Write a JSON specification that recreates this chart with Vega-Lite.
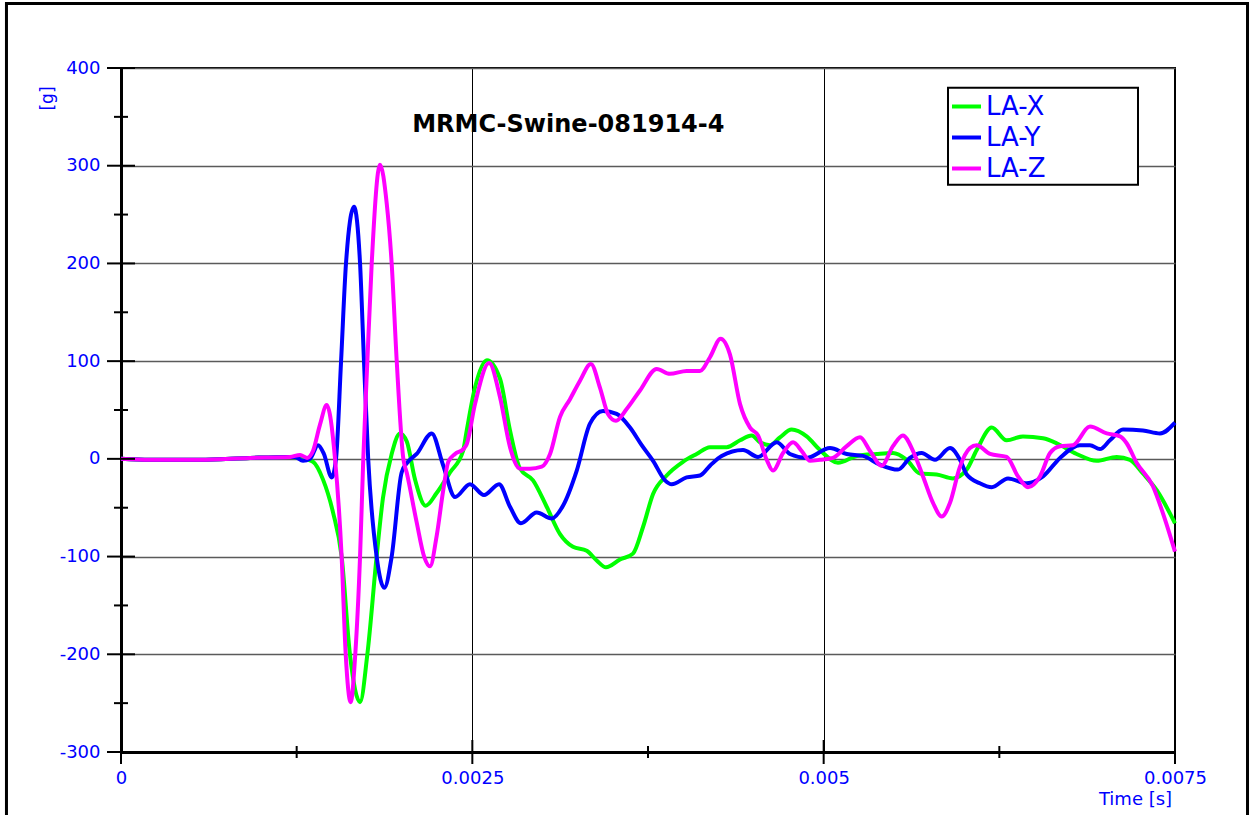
{
  "$schema": "https://vega.github.io/schema/vega-lite/v6.json",
  "width": 1054,
  "height": 684,
  "autosize": {"type": "none"},
  "padding": {"left": 121, "top": 68, "right": 77, "bottom": 63},
  "background": "white",
  "config": {"view": {"stroke": "black", "strokeWidth": 2}},
  "datasets": {
    "accel": [
      {"s":"LA-X","t":0,"v":0},{"s":"LA-X","t":0.000206,"v":-1},{"s":"LA-X","t":0.000562,"v":-1},{"s":"LA-X","t":0.000918,"v":1},{"s":"LA-X","t":0.001203,"v":2},{"s":"LA-X","t":0.001274,"v":1},{"s":"LA-X","t":0.001366,"v":-3},{"s":"LA-X","t":0.001437,"v":-21},{"s":"LA-X","t":0.001509,"v":-55},{"s":"LA-X","t":0.00157,"v":-100},{"s":"LA-X","t":0.001629,"v":-200},{"s":"LA-X","t":0.001701,"v":-249},{"s":"LA-X","t":0.001753,"v":-200},{"s":"LA-X","t":0.001819,"v":-100},{"s":"LA-X","t":0.001864,"v":-40},{"s":"LA-X","t":0.001926,"v":5},{"s":"LA-X","t":0.001985,"v":26},{"s":"LA-X","t":0.002033,"v":18},{"s":"LA-X","t":0.002092,"v":-21},{"s":"LA-X","t":0.002168,"v":-48},{"s":"LA-X","t":0.002246,"v":-35},{"s":"LA-X","t":0.002341,"v":-14},{"s":"LA-X","t":0.002434,"v":8},{"s":"LA-X","t":0.00246,"v":29},{"s":"LA-X","t":0.002519,"v":73},{"s":"LA-X","t":0.002604,"v":101},{"s":"LA-X","t":0.002697,"v":82},{"s":"LA-X","t":0.002768,"v":29},{"s":"LA-X","t":0.002839,"v":-10},{"s":"LA-X","t":0.002932,"v":-22},{"s":"LA-X","t":0.003029,"v":-49},{"s":"LA-X","t":0.003124,"v":-77},{"s":"LA-X","t":0.003216,"v":-90},{"s":"LA-X","t":0.003314,"v":-94},{"s":"LA-X","t":0.003385,"v":-104},{"s":"LA-X","t":0.003451,"v":-111},{"s":"LA-X","t":0.003551,"v":-103},{"s":"LA-X","t":0.003643,"v":-97},{"s":"LA-X","t":0.003714,"v":-70},{"s":"LA-X","t":0.003786,"v":-36},{"s":"LA-X","t":0.003883,"v":-17},{"s":"LA-X","t":0.003999,"v":-3},{"s":"LA-X","t":0.004096,"v":5},{"s":"LA-X","t":0.004191,"v":12},{"s":"LA-X","t":0.00431,"v":12},{"s":"LA-X","t":0.004405,"v":19},{"s":"LA-X","t":0.004488,"v":24},{"s":"LA-X","t":0.004547,"v":17},{"s":"LA-X","t":0.004618,"v":14},{"s":"LA-X","t":0.004689,"v":22},{"s":"LA-X","t":0.004772,"v":30},{"s":"LA-X","t":0.004879,"v":23},{"s":"LA-X","t":0.004974,"v":9},{"s":"LA-X","t":0.005102,"v":-4},{"s":"LA-X","t":0.005235,"v":3},{"s":"LA-X","t":0.005377,"v":5},{"s":"LA-X","t":0.005493,"v":6},{"s":"LA-X","t":0.005591,"v":-1},{"s":"LA-X","t":0.005685,"v":-15},{"s":"LA-X","t":0.005804,"v":-16},{"s":"LA-X","t":0.00592,"v":-20},{"s":"LA-X","t":0.006018,"v":-11},{"s":"LA-X","t":0.006089,"v":9},{"s":"LA-X","t":0.006196,"v":32},{"s":"LA-X","t":0.006302,"v":19},{"s":"LA-X","t":0.006418,"v":23},{"s":"LA-X","t":0.006561,"v":21},{"s":"LA-X","t":0.006658,"v":16},{"s":"LA-X","t":0.0068,"v":5},{"s":"LA-X","t":0.006943,"v":-2},{"s":"LA-X","t":0.007085,"v":2},{"s":"LA-X","t":0.00718,"v":-1},{"s":"LA-X","t":0.007272,"v":-15},{"s":"LA-X","t":0.00737,"v":-32},{"s":"LA-X","t":0.0075,"v":-66},
      {"s":"LA-Y","t":0,"v":0},{"s":"LA-Y","t":0.000206,"v":-1},{"s":"LA-Y","t":0.000562,"v":-1},{"s":"LA-Y","t":0.000918,"v":1},{"s":"LA-Y","t":0.001203,"v":2},{"s":"LA-Y","t":0.001238,"v":2},{"s":"LA-Y","t":0.001295,"v":-2},{"s":"LA-Y","t":0.001345,"v":0},{"s":"LA-Y","t":0.001402,"v":14},{"s":"LA-Y","t":0.001444,"v":5},{"s":"LA-Y","t":0.001499,"v":-19},{"s":"LA-Y","t":0.00153,"v":0},{"s":"LA-Y","t":0.001566,"v":100},{"s":"LA-Y","t":0.001601,"v":200},{"s":"LA-Y","t":0.001658,"v":258},{"s":"LA-Y","t":0.001701,"v":200},{"s":"LA-Y","t":0.001729,"v":100},{"s":"LA-Y","t":0.001759,"v":0},{"s":"LA-Y","t":0.001819,"v":-100},{"s":"LA-Y","t":0.001874,"v":-132},{"s":"LA-Y","t":0.001926,"v":-100},{"s":"LA-Y","t":0.001997,"v":-14},{"s":"LA-Y","t":0.002042,"v":-3},{"s":"LA-Y","t":0.002104,"v":5},{"s":"LA-Y","t":0.002211,"v":26},{"s":"LA-Y","t":0.002291,"v":-6},{"s":"LA-Y","t":0.002377,"v":-39},{"s":"LA-Y","t":0.002483,"v":-26},{"s":"LA-Y","t":0.002583,"v":-37},{"s":"LA-Y","t":0.00269,"v":-26},{"s":"LA-Y","t":0.002768,"v":-49},{"s":"LA-Y","t":0.002846,"v":-66},{"s":"LA-Y","t":0.002958,"v":-55},{"s":"LA-Y","t":0.003065,"v":-61},{"s":"LA-Y","t":0.003145,"v":-48},{"s":"LA-Y","t":0.003243,"v":-12},{"s":"LA-Y","t":0.003337,"v":36},{"s":"LA-Y","t":0.00343,"v":49},{"s":"LA-Y","t":0.003527,"v":46},{"s":"LA-Y","t":0.003622,"v":32},{"s":"LA-Y","t":0.003705,"v":14},{"s":"LA-Y","t":0.003786,"v":-2},{"s":"LA-Y","t":0.003871,"v":-22},{"s":"LA-Y","t":0.003919,"v":-26},{"s":"LA-Y","t":0.004025,"v":-19},{"s":"LA-Y","t":0.00412,"v":-17},{"s":"LA-Y","t":0.004191,"v":-7},{"s":"LA-Y","t":0.004274,"v":3},{"s":"LA-Y","t":0.004426,"v":9},{"s":"LA-Y","t":0.004533,"v":2},{"s":"LA-Y","t":0.004666,"v":17},{"s":"LA-Y","t":0.00476,"v":5},{"s":"LA-Y","t":0.004879,"v":1},{"s":"LA-Y","t":0.005045,"v":11},{"s":"LA-Y","t":0.005164,"v":5},{"s":"LA-Y","t":0.00528,"v":3},{"s":"LA-Y","t":0.005401,"v":-6},{"s":"LA-Y","t":0.005529,"v":-11},{"s":"LA-Y","t":0.005614,"v":1},{"s":"LA-Y","t":0.005697,"v":6},{"s":"LA-Y","t":0.005792,"v":-1},{"s":"LA-Y","t":0.005899,"v":11},{"s":"LA-Y","t":0.00597,"v":-1},{"s":"LA-Y","t":0.006018,"v":-16},{"s":"LA-Y","t":0.006112,"v":-25},{"s":"LA-Y","t":0.006196,"v":-29},{"s":"LA-Y","t":0.006312,"v":-20},{"s":"LA-Y","t":0.006445,"v":-25},{"s":"LA-Y","t":0.006561,"v":-18},{"s":"LA-Y","t":0.006682,"v":1},{"s":"LA-Y","t":0.006824,"v":14},{"s":"LA-Y","t":0.006895,"v":14},{"s":"LA-Y","t":0.006966,"v":10},{"s":"LA-Y","t":0.007037,"v":19},{"s":"LA-Y","t":0.00713,"v":30},{"s":"LA-Y","t":0.007272,"v":29},{"s":"LA-Y","t":0.007393,"v":26},{"s":"LA-Y","t":0.0075,"v":37},
      {"s":"LA-Z","t":0,"v":0},{"s":"LA-Z","t":0.000206,"v":-1},{"s":"LA-Z","t":0.000562,"v":-1},{"s":"LA-Z","t":0.000918,"v":1},{"s":"LA-Z","t":0.001203,"v":2},{"s":"LA-Z","t":0.001274,"v":4},{"s":"LA-Z","t":0.001324,"v":1},{"s":"LA-Z","t":0.001366,"v":8},{"s":"LA-Z","t":0.001416,"v":35},{"s":"LA-Z","t":0.001464,"v":55},{"s":"LA-Z","t":0.001523,"v":0},{"s":"LA-Z","t":0.00157,"v":-100},{"s":"LA-Z","t":0.001599,"v":-200},{"s":"LA-Z","t":0.001634,"v":-249},{"s":"LA-Z","t":0.001667,"v":-200},{"s":"LA-Z","t":0.001701,"v":-100},{"s":"LA-Z","t":0.001724,"v":0},{"s":"LA-Z","t":0.001753,"v":100},{"s":"LA-Z","t":0.001784,"v":200},{"s":"LA-Z","t":0.001843,"v":301},{"s":"LA-Z","t":0.001891,"v":261},{"s":"LA-Z","t":0.001926,"v":200},{"s":"LA-Z","t":0.001962,"v":100},{"s":"LA-Z","t":0.002009,"v":0},{"s":"LA-Z","t":0.002033,"v":-14},{"s":"LA-Z","t":0.002104,"v":-65},{"s":"LA-Z","t":0.002157,"v":-100},{"s":"LA-Z","t":0.002199,"v":-110},{"s":"LA-Z","t":0.002246,"v":-79},{"s":"LA-Z","t":0.002293,"v":-32},{"s":"LA-Z","t":0.002329,"v":-3},{"s":"LA-Z","t":0.002377,"v":5},{"s":"LA-Z","t":0.002436,"v":10},{"s":"LA-Z","t":0.00246,"v":15},{"s":"LA-Z","t":0.002519,"v":56},{"s":"LA-Z","t":0.002619,"v":98},{"s":"LA-Z","t":0.002697,"v":63},{"s":"LA-Z","t":0.002768,"v":12},{"s":"LA-Z","t":0.002839,"v":-10},{"s":"LA-Z","t":0.00291,"v":-10},{"s":"LA-Z","t":0.002994,"v":-8},{"s":"LA-Z","t":0.003053,"v":5},{"s":"LA-Z","t":0.003124,"v":43},{"s":"LA-Z","t":0.003195,"v":61},{"s":"LA-Z","t":0.003266,"v":80},{"s":"LA-Z","t":0.003344,"v":97},{"s":"LA-Z","t":0.003408,"v":73},{"s":"LA-Z","t":0.003465,"v":46},{"s":"LA-Z","t":0.003522,"v":39},{"s":"LA-Z","t":0.003598,"v":51},{"s":"LA-Z","t":0.003693,"v":70},{"s":"LA-Z","t":0.003812,"v":92},{"s":"LA-Z","t":0.003906,"v":87},{"s":"LA-Z","t":0.004025,"v":90},{"s":"LA-Z","t":0.00412,"v":90},{"s":"LA-Z","t":0.004191,"v":104},{"s":"LA-Z","t":0.004267,"v":123},{"s":"LA-Z","t":0.004333,"v":107},{"s":"LA-Z","t":0.004405,"v":56},{"s":"LA-Z","t":0.004476,"v":32},{"s":"LA-Z","t":0.004533,"v":24},{"s":"LA-Z","t":0.004595,"v":-1},{"s":"LA-Z","t":0.004639,"v":-12},{"s":"LA-Z","t":0.004711,"v":6},{"s":"LA-Z","t":0.004782,"v":17},{"s":"LA-Z","t":0.004844,"v":8},{"s":"LA-Z","t":0.004903,"v":-2},{"s":"LA-Z","t":0.004974,"v":-1},{"s":"LA-Z","t":0.005066,"v":1},{"s":"LA-Z","t":0.005164,"v":13},{"s":"LA-Z","t":0.005259,"v":22},{"s":"LA-Z","t":0.00533,"v":8},{"s":"LA-Z","t":0.005413,"v":-7},{"s":"LA-Z","t":0.005493,"v":13},{"s":"LA-Z","t":0.005564,"v":24},{"s":"LA-Z","t":0.005636,"v":8},{"s":"LA-Z","t":0.005707,"v":-18},{"s":"LA-Z","t":0.005778,"v":-45},{"s":"LA-Z","t":0.00584,"v":-59},{"s":"LA-Z","t":0.005899,"v":-45},{"s":"LA-Z","t":0.00597,"v":-8},{"s":"LA-Z","t":0.006041,"v":11},{"s":"LA-Z","t":0.006089,"v":14},{"s":"LA-Z","t":0.006184,"v":5},{"s":"LA-Z","t":0.006302,"v":2},{"s":"LA-Z","t":0.006383,"v":-18},{"s":"LA-Z","t":0.006454,"v":-29},{"s":"LA-Z","t":0.006539,"v":-18},{"s":"LA-Z","t":0.006611,"v":6},{"s":"LA-Z","t":0.006682,"v":13},{"s":"LA-Z","t":0.006774,"v":14},{"s":"LA-Z","t":0.006895,"v":33},{"s":"LA-Z","t":0.007014,"v":26},{"s":"LA-Z","t":0.007109,"v":23},{"s":"LA-Z","t":0.007156,"v":16},{"s":"LA-Z","t":0.007227,"v":-4},{"s":"LA-Z","t":0.007343,"v":-28},{"s":"LA-Z","t":0.007415,"v":-56},{"s":"LA-Z","t":0.0075,"v":-95}
    ],
    "yticks": [
      {"v":-300,"major":true},{"v":-250,"major":false},{"v":-200,"major":true},{"v":-150,"major":false},{"v":-100,"major":true},{"v":-50,"major":false},{"v":0,"major":true},{"v":50,"major":false},{"v":100,"major":true},{"v":150,"major":false},{"v":200,"major":true},{"v":250,"major":false},{"v":300,"major":true},{"v":350,"major":false},{"v":400,"major":true}
    ],
    "xticks": [
      {"t":0,"major":true},{"t":0.00125,"major":false},{"t":0.0025,"major":true},{"t":0.00375,"major":false},{"t":0.005,"major":true},{"t":0.00625,"major":false},{"t":0.0075,"major":true}
    ],
    "titles": [{"t": 0.003183, "v": 335, "label": "MRMC-Swine-081914-4"}]
  },
  "layer": [
    {
      "data": {"name": "accel"},
      "mark": {"type": "line", "strokeWidth": 4, "interpolate": "monotone"},
      "encoding": {
        "x": {
          "field": "t", "type": "quantitative",
          "scale": {"domain": [0, 0.0075], "nice": false, "zero": false},
          "axis": {
            "values": [0, 0.0025, 0.005, 0.0075],
            "labelExpr": "datum.value + ''",
            "title": "Time [s]", "titleX": 1014, "titleY": 47, "titleAlign": "center", "titleBaseline": "middle", "titleAngle": 0,
            "titleColor": "#0000ff", "titleFont": "DejaVu Sans", "titleFontSize": 18, "titleFontWeight": "normal",
            "labelColor": "#0000ff", "labelFont": "DejaVu Sans", "labelFontSize": 18, "labelPadding": 17,
            "labelBaseline": "top", "labelAlign": "center", "labelFlush": false, "labelOverlap": false,
            "ticks": false, "domain": true, "domainColor": "black", "domainWidth": 3,
            "grid": true, "gridColor": "black", "gridWidth": 1, "gridOpacity": 1
          }
        },
        "y": {
          "field": "v", "type": "quantitative",
          "scale": {"domain": [-300, 400], "nice": false, "zero": false},
          "axis": {
            "values": [-300, -200, -100, 0, 100, 200, 300, 400],
            "labelExpr": "datum.value + ''",
            "title": "[g]", "titleX": -74, "titleY": 30, "titleAlign": "center", "titleBaseline": "middle", "titleAngle": 270,
            "titleColor": "#0000ff", "titleFont": "DejaVu Sans", "titleFontSize": 17, "titleFontWeight": "normal",
            "labelColor": "#0000ff", "labelFont": "DejaVu Sans", "labelFontSize": 18, "labelPadding": 21,
            "labelAlign": "right", "labelBaseline": "middle", "labelFlush": false, "labelOverlap": false,
            "ticks": false, "domain": true, "domainColor": "black", "domainWidth": 3,
            "grid": true, "gridColor": "#5a5a5a", "gridWidth": 1.5, "gridOpacity": 1
          }
        },
        "color": {
          "field": "s", "type": "nominal",
          "scale": {"domain": ["LA-X", "LA-Y", "LA-Z"], "range": ["#00ff00", "#0000ff", "#ff00ff"]},
          "legend": {
            "title": null, "orient": "none", "legendX": 827, "legendY": 20,
            "symbolType": "stroke", "symbolSize": 841, "symbolStrokeWidth": 4,
            "labelFont": "DejaVu Sans", "labelFontSize": 26, "labelColor": "#0000ff", "labelOffset": 3,
            "padding": 2, "rowPadding": 1
          }
        }
      }
    },
    {
      "data": {"values": [{}]},
      "mark": {"type": "rect", "filled": false, "stroke": "black", "strokeWidth": 3, "clip": false},
      "encoding": {
        "x": {"datum": -0.000815, "type": "quantitative"},
        "x2": {"datum": 0.008016},
        "y": {"datum": 466, "type": "quantitative"},
        "y2": {"datum": -380}
      }
    },
    {
      "data": {"values": [{}]},
      "mark": {"type": "rect", "fill": "white", "stroke": "black", "strokeWidth": 2},
      "encoding": {
        "x": {"datum": 0.0058847, "type": "quantitative"},
        "x2": {"datum": 0.0072367},
        "y": {"datum": 379.7, "type": "quantitative"},
        "y2": {"datum": 280.5}
      }
    },
    {
      "data": {"name": "titles"},
      "mark": {"type": "text", "font": "DejaVu Sans", "fontSize": 24, "fontWeight": "bold", "color": "black", "align": "center", "baseline": "alphabetic"},
      "encoding": {
        "x": {"field": "t", "type": "quantitative"},
        "y": {"field": "v", "type": "quantitative"},
        "text": {"field": "label"}
      }
    },
    {
      "data": {"name": "yticks"},
      "mark": {"type": "tick", "orient": "horizontal", "color": "black", "thickness": 2, "opacity": 1},
      "encoding": {
        "x": {"datum": 0, "type": "quantitative"},
        "y": {"field": "v", "type": "quantitative"},
        "size": {"condition": {"test": "datum.major", "value": 28}, "value": 14}
      }
    },
    {
      "data": {"name": "xticks"},
      "mark": {"type": "tick", "orient": "vertical", "color": "black", "thickness": 2, "opacity": 1},
      "encoding": {
        "x": {"field": "t", "type": "quantitative"},
        "y": {"datum": -300, "type": "quantitative"},
        "size": {"condition": {"test": "datum.major", "value": 24}, "value": 12}
      }
    }
  ]
}
